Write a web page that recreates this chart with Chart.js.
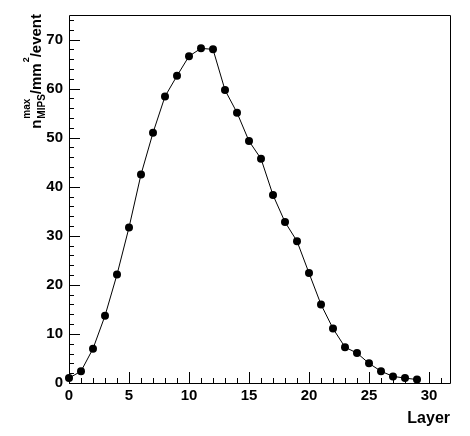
<!DOCTYPE html>
<html>
<head>
<meta charset="utf-8">
<script src="https://cdn.jsdelivr.net/npm/chart.js@4/dist/chart.umd.min.js"></script>
<style>
  html, body { margin: 0; padding: 0; background: #fff; }
  #wrap { width: 470px; height: 436px; }
</style>
</head>
<body>
<div id="wrap"><canvas id="c" width="470" height="436"></canvas></div>
<script>
// ---- data ----
const layers = [0,1,2,3,4,5,6,7,8,9,10,11,12,13,14,15,16,17,18,19,20,21,22,23,24,25,26,27,28,29];
const nMips  = [1.0,2.4,7.0,13.7,22.1,31.7,42.5,51.0,58.4,62.6,66.6,68.2,68.0,59.7,55.1,49.3,45.7,38.3,32.8,28.9,22.4,16.0,11.1,7.3,6.1,4.0,2.4,1.35,1.0,0.7];
const xTickValues = [0,5,10,15,20,25,30];
const yTickValues = [0,10,20,30,40,50,60,70];
const xTitle = 'Layer';
const yTitleParts = { main: 'n', sup: 'max', sub: 'MIPS', mid: '/mm', sup2: '2', end: '/event' };

const FONT = '"Liberation Sans", Arial, Helvetica, sans-serif';

const frameTicks = {
  id: 'frameTicks',
  beforeDatasetsDraw(chart) {
    const { ctx, chartArea: a, scales: { x, y } } = chart;
    ctx.save();
    ctx.strokeStyle = '#000';
    ctx.lineWidth = 1;
    ctx.beginPath();
    ctx.rect(Math.round(a.left) + 0.5, Math.round(a.top) + 0.5, Math.round(a.right - a.left), Math.round(a.bottom - a.top));
    ctx.stroke();
    ctx.beginPath();
    // x ticks (inward, upward)
    for (let v = Math.ceil(x.min); v <= x.max; v += 1) {
      const px = Math.round(x.getPixelForValue(v)) + 0.5;
      const len = (v % 5 === 0) ? 11 : 5;
      ctx.moveTo(px, a.bottom);
      ctx.lineTo(px, a.bottom - len);
    }
    // y ticks (inward, rightward)
    for (let v = 0; v <= y.max; v += 2) {
      const py = Math.round(y.getPixelForValue(v)) + 0.5;
      const len = (v % 10 === 0) ? 11 : 5;
      ctx.moveTo(a.left, py);
      ctx.lineTo(a.left + len, py);
    }
    ctx.stroke();
    ctx.restore();
  },
  afterDraw(chart) {
    const { ctx } = chart;
    const p = yTitleParts;
    const mainF = 'bold 15px ' + FONT;
    const smallF = 'bold 10px ' + FONT;
    const sup2F = 'bold 9px ' + FONT;
    ctx.save();
    ctx.fillStyle = '#000';
    ctx.textBaseline = 'alphabetic';
    ctx.textAlign = 'left';
    ctx.font = mainF;
    const wMain = ctx.measureText(p.main).width;
    const wMid = ctx.measureText(p.mid).width;
    const wEnd = ctx.measureText(p.end).width;
    ctx.font = smallF;
    const wSS = Math.max(ctx.measureText(p.sup).width, ctx.measureText(p.sub).width);
    ctx.font = sup2F;
    const wSup2 = ctx.measureText(p.sup2).width;
    const total = wMain + 1 + wSS + wMid + 1 + wSup2 + wEnd;
    const topEnd = 14;
    ctx.translate(41, topEnd + total);
    ctx.rotate(-Math.PI / 2);
    let cx = 0;
    ctx.font = mainF; ctx.fillText(p.main, cx, 0); cx += wMain + 1;
    ctx.font = smallF; ctx.fillText(p.sup, cx, -11); ctx.fillText(p.sub, cx, 4); cx += wSS;
    ctx.font = mainF; ctx.fillText(p.mid, cx, 0); cx += wMid + 1;
    ctx.font = sup2F; ctx.fillText(p.sup2, cx, -12); cx += wSup2;
    ctx.font = mainF; ctx.fillText(p.end, cx, 0);
    ctx.restore();
  }
};

new Chart(document.getElementById('c'), {
  type: 'line',
  data: {
    datasets: [{
      data: layers.map((l, i) => ({ x: l, y: nMips[i] })),
      borderColor: '#000',
      backgroundColor: '#000',
      borderWidth: 1,
      pointRadius: 4,
      pointBorderWidth: 0,
      pointBackgroundColor: '#000',
      pointStyle: 'circle',
      tension: 0,
      clip: false
    }]
  },
  options: {
    responsive: false,
    animation: false,
    devicePixelRatio: 1,
    layout: { padding: { top: 13, right: 20, left: 0, bottom: 0 } },
    plugins: { legend: { display: false }, tooltip: { enabled: false } },
    scales: {
      x: {
        type: 'linear',
        min: 0, max: 31.75,
        afterBuildTicks(s) { s.ticks = xTickValues.map(v => ({ value: v })); },
        afterFit(s) { s.height = 53; },
        grid: { display: false, drawTicks: false },
        border: { display: false },
        ticks: { color: '#000', font: { family: FONT, size: 15, weight: 'bold' }, padding: 4, maxRotation: 0, autoSkip: false },
        title: { display: true, text: xTitle, align: 'end', color: '#000', font: { family: FONT, size: 16, weight: 'bold' }, padding: { top: 0, bottom: 8 } }
      },
      y: {
        type: 'linear',
        min: 0, max: 75,
        afterBuildTicks(s) { s.ticks = yTickValues.map(v => ({ value: v })); },
        afterFit(s) { s.width = 69; },
        grid: { display: false, drawTicks: false },
        border: { display: false },
        ticks: { color: '#000', font: { family: FONT, size: 15, weight: 'bold' }, padding: 6, autoSkip: false }
      }
    }
  },
  plugins: [frameTicks]
});
</script>
</body>
</html>
